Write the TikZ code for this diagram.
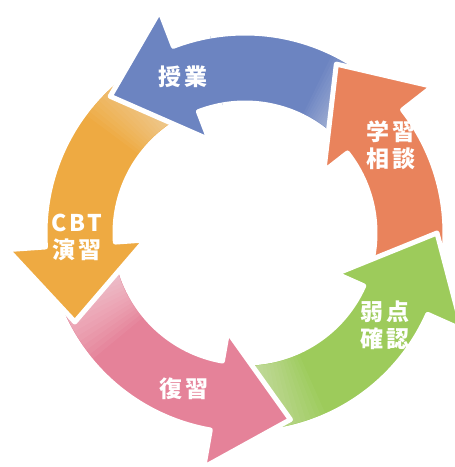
\documentclass[tikz,border=0pt]{standalone}
\usepackage{fontspec}
\newfontfamily\jpfont{Noto Sans CJK JP}[LetterSpace=12]
\definecolor{cblue}{HTML}{6C84C1}
\definecolor{corange}{HTML}{E9835C}
\definecolor{cgreen}{HTML}{9DCB5B}
\definecolor{cpink}{HTML}{E58299}
\definecolor{cyellow}{HTML}{EEAA42}
\tikzset{
  arrowshape/.style={fill=#1, draw=white, line width=5pt, line join=round},
  arw/.style n args={3}{insert path={(#1:200pt) arc[start angle=#1, end angle=#2, radius=200pt]
     -- (#2:238pt) -- (#3:192pt) -- (#2:100pt) -- (#2:130pt)
     arc[start angle=#2, end angle=#1, radius=130pt] -- cycle}},
  sector/.style n args={2}{insert path={(#1:197pt) arc[start angle=#1, end angle=#2, radius=197pt]
     -- (#2:133pt) arc[start angle=#2, end angle=#1, radius=133pt] -- cycle}},
  lbl/.style={text=white, font=\jpfont\bfseries\fontsize{23}{27}\selectfont, align=center, inner sep=0pt},
}
% #1 tail angle, #2 angular step, #3 opacity per layer
\newcommand\tailfade[3]{%
  \foreach \k [evaluate=\k as \e using #1+#2*\k] in {1,...,16}
    \fill[white, opacity=#3, sector={#1}{\e}];}
\begin{document}
\begin{tikzpicture}
\useasboundingbox (0,0) rectangle (455pt,-467pt);
\begin{scope}[shift={(245pt,-233pt)}]
  % blue
  \draw[arrowshape=cblue, arw={48}{111}{134.6}];
  \tailfade{48}{1.0}{0.035}
  % orange
  \draw[arrowshape=corange, arw={-14}{38}{61.6}];
  % green
  \draw[arrowshape=cgreen, arw={270}{336}{360}];
  \tailfade{270}{1.5}{0.04}
  % pink
  \draw[arrowshape=cpink, arw={194}{260}{283.7}];
  \tailfade{194}{1.6}{0.05}
  % yellow
  \draw[arrowshape=cyellow, arw={121}{184}{207.6}];
  \tailfade{121}{1.4}{0.04}
  % blue head over yellow tail
  \begin{scope}
    \clip (0,0) -- (100:320pt) -- (135:320pt) -- (170:320pt) -- cycle;
    \draw[arrowshape=cblue, arw={48}{111}{134.6}];
  \end{scope}
\end{scope}
\node[lbl] (jugyo) at (183pt,-77pt) {授業};
\node[lbl] (soudan) at (391pt,-145pt) {学習\\相談};
\node[lbl] (jakuten) at (385pt,-325pt) {弱点\\確認};
\node[lbl] (fukushu) at (184pt,-389pt) {復習};
\node[lbl] (cbt) at (77pt,-237pt) {CBT\\演習};
\end{tikzpicture}
\end{document}
